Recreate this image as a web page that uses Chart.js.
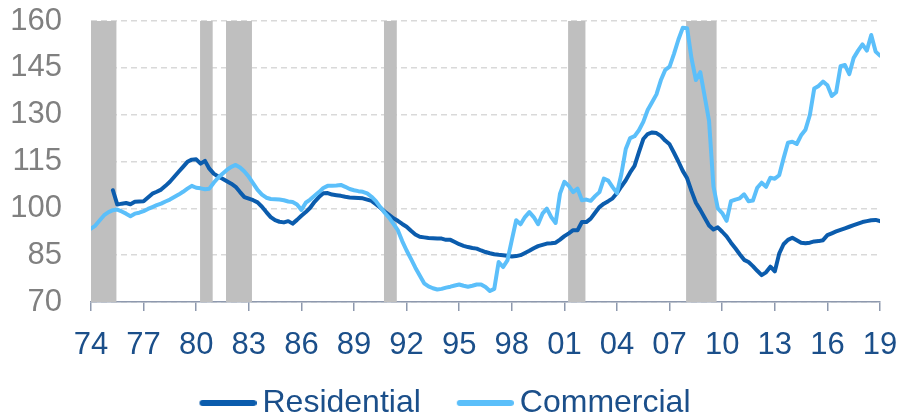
<!DOCTYPE html>
<html>
<head>
<meta charset="utf-8">
<script src="https://cdn.jsdelivr.net/npm/chart.js@4/dist/chart.umd.min.js"></script>
<style>
  html, body { margin: 0; padding: 0; background: #fff; }
  #wrap { width: 900px; height: 415px; }
</style>
</head>
<body>
<div id="wrap"><canvas id="priceChart" width="900" height="415"></canvas></div>
<script>
// quarterly series, first quarter = 1974 Q1
const startYear = 1974;

const residential = [
  null, null, null, null,
  null, 105.8, 101.2, 101.5,
  101.7, 101.3, 102.1, 102.2,
  102.3, 103.5, 104.7, 105.3,
  106.0, 107.2, 108.5, 110.1,
  111.7, 113.3, 114.9, 115.6,
  115.7, 114.3, 115.2, 112.7,
  111.1, 110.2, 109.5, 108.7,
  107.9, 106.9, 105.2, 103.6,
  103.1, 102.6, 101.9, 100.5,
  98.8, 97.2, 96.2, 95.7,
  95.5, 95.9, 95.1, 96.3,
  97.6, 98.8, 100.2, 102.1,
  103.6, 104.8, 104.9, 104.4,
  104.2, 104.0, 103.7, 103.5,
  103.4, 103.3, 103.2, 102.8,
  102.4, 101.3, 100.2, 99.0,
  97.9, 96.8, 96.0, 95.0,
  94.1, 92.8, 91.6, 90.9,
  90.7, 90.5, 90.4, 90.3,
  90.3, 89.9, 89.9, 89.2,
  88.5, 88.0, 87.6, 87.3,
  87.1, 86.5, 86.0, 85.6,
  85.3, 85.1, 85.0, 84.8,
  84.6, 84.7, 85.0, 85.7,
  86.4, 87.2, 87.9, 88.3,
  88.7, 88.8, 89.0, 90.0,
  91.1, 92.0, 93.0, 93.0,
  95.6, 95.6, 96.7, 98.6,
  100.4, 101.5, 102.3, 103.2,
  104.9, 107.0, 109.0, 111.5,
  113.6, 118.0, 122.2, 123.8,
  124.3, 124.1, 123.2, 121.7,
  120.5, 117.8, 115.0, 112.0,
  109.6, 105.5, 101.8, 99.5,
  97.0, 94.5, 93.2, 93.9,
  92.5, 91.0, 89.0, 87.2,
  85.3, 83.5, 82.8, 81.5,
  80.0, 78.6, 79.5, 81.3,
  79.8, 85.5, 88.5, 89.9,
  90.6, 89.8, 89.0, 88.8,
  89.0, 89.4, 89.5, 89.8,
  91.4, 92.0, 92.6, 93.1,
  93.6, 94.1, 94.6, 95.1,
  95.6, 95.9, 96.2, 96.3,
  95.9
];

const commercial = [
  93.5, 94.5, 96.2, 97.8,
  98.8, 99.4, 99.6, 99.0,
  98.3, 97.5, 98.3, 98.6,
  99.1, 99.8, 100.4, 101.0,
  101.5, 102.2, 102.8, 103.6,
  104.4, 105.3, 106.3, 107.2,
  106.6, 106.4, 106.1, 106.3,
  108.2, 109.8, 111.1, 112.3,
  113.3, 113.9, 113.1, 111.8,
  110.1, 108.0, 105.9, 104.4,
  103.4, 103.0, 102.9, 102.8,
  102.6, 102.2, 102.0, 101.2,
  99.5, 101.8, 102.8, 104.0,
  105.2, 106.5, 107.2, 107.2,
  107.3, 107.5, 106.9, 106.2,
  105.8, 105.5, 105.3, 104.8,
  103.7, 102.3, 100.4, 98.6,
  97.0, 95.0, 93.0, 89.5,
  86.5, 83.8, 81.0, 78.5,
  76.0, 75.0, 74.4, 74.0,
  74.2, 74.6, 74.9, 75.3,
  75.6, 75.2, 74.9, 75.2,
  75.6, 75.6, 74.8, 73.5,
  74.2, 82.8, 81.2, 83.3,
  89.8, 96.2, 94.9, 97.2,
  98.8, 97.2, 94.9, 98.3,
  99.9, 97.2, 95.3, 104.7,
  108.5, 107.2, 105.2, 106.3,
  102.6, 102.8, 102.4, 103.9,
  105.2, 109.5, 108.9, 106.8,
  104.9, 111.0, 119.0, 122.5,
  123.1, 125.0, 127.7, 131.5,
  134.0, 136.5, 141.0, 144.3,
  145.4, 149.5, 154.0, 157.8,
  157.7, 148.0, 141.1, 143.6,
  135.9, 128.0, 107.0, 100.0,
  98.5, 96.0, 102.3, 102.8,
  103.2, 104.5, 102.3, 102.5,
  106.6, 108.2, 106.9, 109.8,
  109.5, 110.6, 116.0, 121.0,
  121.3, 120.6, 123.4, 125.2,
  129.9, 138.4, 139.2, 140.6,
  139.4, 136.0, 137.2, 145.5,
  145.9, 143.0, 148.2, 150.5,
  152.5, 150.5, 155.5, 150.2,
  148.9
];

// recession shading, start/end in fractional years
const recessions = [
  [1973.75, 1975.45],
  [1980.22, 1980.94],
  [1981.70, 1983.18],
  [1990.71, 1991.44],
  [2001.21, 2002.20],
  [2007.94, 2009.68]
];

const yTicks = [70, 85, 100, 115, 130, 145, 160];

const toPoints = (vals) => vals.map((v, i) => ({ x: startYear + i / 4, y: v }));

const recessionBars = {
  id: 'recessionBars',
  beforeDatasetsDraw(chart) {
    const { ctx, chartArea, scales } = chart;
    ctx.save();
    ctx.beginPath();
    ctx.rect(chartArea.left, chartArea.top, chartArea.width, chartArea.height);
    ctx.clip();
    ctx.fillStyle = '#bfbfbf';
    recessions.forEach(([a, b]) => {
      const x1 = scales.x.getPixelForValue(a);
      const x2 = scales.x.getPixelForValue(b);
      ctx.fillRect(x1, chartArea.top, x2 - x1, chartArea.bottom - chartArea.top);
    });
    ctx.restore();
  }
};

// legend swatch: a short thick line, shifted right so it sits close to its text
function legendLine(color) {
  const c = document.createElement('canvas');
  c.width = 77;
  c.height = 8;
  const g = c.getContext('2d');
  g.strokeStyle = color;
  g.lineWidth = 6;
  g.lineCap = 'round';
  g.beginPath();
  g.moveTo(23, 4);
  g.lineTo(74, 4);
  g.stroke();
  return c;
}

const font = "'Liberation Sans', Arial, sans-serif";

new Chart(document.getElementById('priceChart'), {
  type: 'line',
  data: {
    datasets: [
      {
        label: 'Residential',
        data: toPoints(residential),
        borderColor: '#0b5cad',
        backgroundColor: '#0b5cad',
        borderWidth: 4,
        pointRadius: 0,
        tension: 0,
        borderJoinStyle: 'round',
        borderCapStyle: 'round',
        order: 2
      },
      {
        label: 'Commercial',
        data: toPoints(commercial),
        borderColor: '#5bbffa',
        backgroundColor: '#5bbffa',
        borderWidth: 4,
        pointRadius: 0,
        tension: 0,
        borderJoinStyle: 'round',
        borderCapStyle: 'round',
        order: 1
      }
    ]
  },
  options: {
    responsive: false,
    animation: false,
    layout: { padding: { top: 21, right: 20, left: 0, bottom: -14 } },
    plugins: {
      tooltip: { enabled: false },
      legend: {
        position: 'bottom',
        labels: {
          font: { family: font, size: 32 },
          color: '#1b4f8a',
          usePointStyle: true,
          pointStyleWidth: 57,
          boxHeight: 6,
          padding: 26,
          sort: (a, b) => a.datasetIndex - b.datasetIndex,
          generateLabels(chart) {
            const items = Chart.defaults.plugins.legend.labels.generateLabels(chart);
            items.forEach((it) => {
              it.pointStyle = legendLine(chart.data.datasets[it.datasetIndex].borderColor);
            });
            return items;
          }
        }
      }
    },
    scales: {
      x: {
        type: 'linear',
        min: 1974,
        max: 2019,
        afterBuildTicks(scale) {
          scale.ticks = [];
          for (let v = 1974; v <= 2019; v += 3) scale.ticks.push({ value: v });
        },
        afterFit(scale) {
          scale.height = 59;
          scale.paddingLeft = 0;
          scale.paddingRight = 0;
        },
        ticks: {
          color: '#1b4f8a',
          font: { family: font, size: 31 },
          padding: 16,
          maxRotation: 0,
          autoSkip: false,
          callback: (v) => String(v % 100).padStart(2, '0')
        },
        grid: {
          drawOnChartArea: false,
          drawTicks: true,
          tickLength: 9,
          color: '#8e99ae',
          lineWidth: 1.5
        },
        border: { color: '#8e99ae', width: 1.5 }
      },
      y: {
        min: 70,
        max: 160,
        afterBuildTicks(scale) { scale.ticks = yTicks.map((v) => ({ value: v })); },
        afterFit(scale) {
          scale.width = 91;
          scale.paddingTop = 0;
          scale.paddingBottom = 0;
        },
        ticks: {
          color: '#808080',
          font: { family: font, size: 31 },
          padding: 29
        },
        grid: {
          drawTicks: false,
          color: '#d9d9d9',
          lineWidth: 1.5
        },
        border: { display: false, dash: [6, 4] }
      }
    }
  },
  plugins: [recessionBars]
});
</script>
</body>
</html>
